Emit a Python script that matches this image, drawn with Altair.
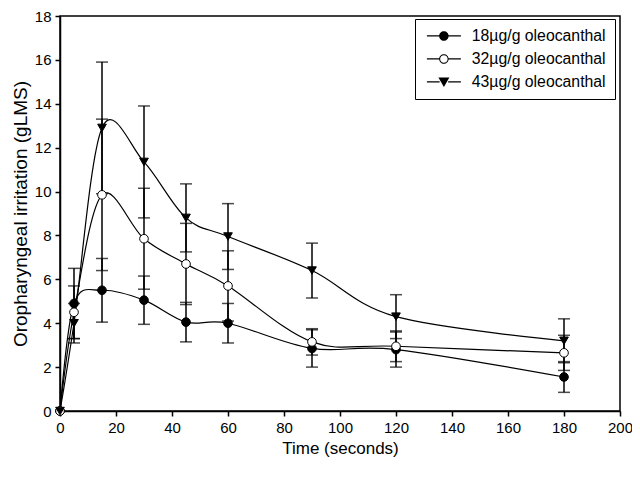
import altair as alt
import pandas as pd

time = [0, 5, 15, 30, 45, 60, 90, 120, 180]
series_names = ["18µg/g oleocanthal", "32µg/g oleocanthal", "43µg/g oleocanthal"]
s18 = [0, 4.9, 5.5, 5.05, 4.05, 4.0, 2.85, 2.8, 1.55]
e18 = [0, 1.6, 1.45, 1.1, 0.9, 0.9, 0.85, 0.8, 0.7]
s32 = [0, 4.5, 9.85, 7.85, 6.7, 5.7, 3.15, 2.95, 2.65]
e32 = [0, 1.2, 3.45, 2.3, 1.85, 1.6, 0.6, 0.7, 0.8]
s43 = [0, 4.0, 12.9, 11.35, 8.8, 7.95, 6.4, 4.3, 3.2]
e43 = [0, 0.9, 3.0, 2.55, 1.55, 1.5, 1.25, 1.0, 1.0]

rows = []
for name, vals, errs in zip(series_names, [s18, s32, s43], [e18, e32, e43]):
    for t, v, e in zip(time, vals, errs):
        rows.append({"time": t, "value": v, "err": e, "series": name})
df = pd.DataFrame(rows)

FONT = "Liberation Sans"
xs = alt.Scale(domain=[0, 200], nice=False)
ys = alt.Scale(domain=[0, 18], nice=False)
xax = alt.Axis(values=list(range(0, 201, 20)), title="Time (seconds)", labelFlush=False)
yax = alt.Axis(values=list(range(0, 19, 2)), title="Oropharyngeal irritation (gLMS)", labelFlush=False)

base = alt.Chart(df)

lines = base.mark_line(interpolate="cardinal", color="black", strokeWidth=1.2).encode(
    x=alt.X("time:Q", scale=xs, axis=xax),
    y=alt.Y("value:Q", scale=ys, axis=yax),
    detail="series:N",
)

err = base.transform_filter("datum.err > 0").transform_calculate(
    lo="datum.value - datum.err", hi="datum.value + datum.err"
)
rules = err.mark_rule(color="black", strokeWidth=1.5).encode(
    x="time:Q", y="lo:Q", y2="hi:Q"
)
caps_lo = err.mark_tick(orient="horizontal", size=12, thickness=1.5, color="black").encode(
    x="time:Q", y="lo:Q"
)
caps_hi = err.mark_tick(orient="horizontal", size=12, thickness=1.5, color="black").encode(
    x="time:Q", y="hi:Q"
)

# plotted markers (no legend)
points = base.mark_point(filled=True, opacity=1).encode(
    x="time:Q", y="value:Q",
    shape=alt.Shape("series:N", scale=alt.Scale(domain=series_names, range=["circle", "circle", "triangle-down"]), legend=None),
    fill=alt.Fill("series:N", scale=alt.Scale(domain=series_names, range=["black", "white", "black"]), legend=None),
    stroke=alt.value("black"),
    strokeWidth=alt.value(1),
    size=alt.value(75),
)

# legend symbols: line segment with marker, drawn as filled outlines
bar_l = "M-3.4,-0.11L-0.85,-0.11L-0.85,0.11L-3.4,0.11Z"
bar_r = "M0.85,-0.11L3.4,-0.11L3.4,0.11L0.85,0.11Z"
disc = "M0.95,0A0.95,0.95,0,1,1,-0.95,0A0.95,0.95,0,1,1,0.95,0Z"
ring = disc + "M0.75,0A0.75,0.75,0,1,0,-0.75,0A0.75,0.75,0,1,0,0.75,0Z"
tri = "M-1.1,-0.9L1.1,-0.9L0,1.0Z"
shape_paths = [bar_l + bar_r + disc, bar_l + bar_r + ring, bar_l + bar_r + tri]

leg = alt.Legend(
    title=None, orient="none", legendX=355, legendY=3,
    strokeColor="black", fillColor="white", padding=9,
    labelFont=FONT, labelFontSize=15.8, labelColor="black",
    labelExpr="datum.label + '\u00a0\u00a0'",
    rowPadding=6, symbolSize=100, labelOffset=20, symbolOffset=12,
    symbolStrokeWidth=0,
)
legend_src = base.transform_filter("false").mark_point(filled=True, opacity=1).encode(
    x="time:Q", y="value:Q",
    shape=alt.Shape("series:N", scale=alt.Scale(domain=series_names, range=shape_paths), legend=leg),
    fill=alt.value("black"),
)

chart = alt.layer(lines, rules, caps_lo, caps_hi, points, legend_src).resolve_scale(
    shape="independent", fill="independent"
).properties(
    width=560, height=395,
    autosize=alt.AutoSizeParams(type="none"),
    padding={"left": 52, "top": 8, "right": 12, "bottom": 58},
).configure_view(stroke="black", strokeWidth=1.5).configure_axis(
    grid=False, domainColor="black", domainWidth=1.5, tickColor="black", tickWidth=1.5,
    tickSize=5, labelFont=FONT, labelFontSize=15, labelColor="black",
    titleFont=FONT, titleFontWeight="normal", titleColor="black",
).configure_axisY(titlePadding=4, labelPadding=4, titleFontSize=19).configure_axisX(
    titlePadding=5, labelPadding=4, titleFontSize=17
)

chart.save("out.html", embed_options={"renderer": "svg", "actions": False})
